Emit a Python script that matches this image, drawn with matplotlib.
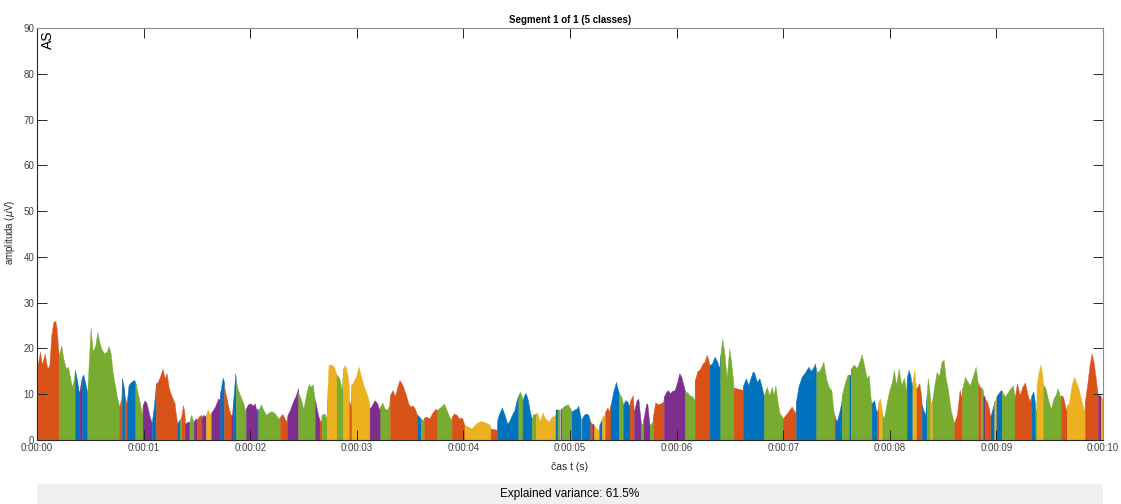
import numpy as np
import matplotlib
matplotlib.use("Agg")
import matplotlib.pyplot as plt
from matplotlib.patches import Rectangle

plt.rcParams["font.family"] = ["Liberation Sans", "DejaVu Sans"]

# ----------------------------- GFP TRACE ----------------------------------- #
# knot times (s) and global field power (uV), one row per second of recording
knot_t = [
    0.000, 0.028, 0.047, 0.072, 0.097, 0.116, 0.134, 0.153, 0.172, 0.184, 0.197,
    0.203, 0.228, 0.247, 0.272, 0.291, 0.309, 0.328, 0.347,
    0.356, 0.372, 0.391, 0.397, 0.416, 0.422, 0.434, 0.450, 0.466,
    0.472, 0.491, 0.503, 0.522, 0.547, 0.566, 0.584, 0.603, 0.628, 0.653, 0.672, 0.691, 0.709, 0.734, 0.753,
    0.772, 0.791, 0.797, 0.816, 0.822, 0.841, 0.859, 0.884, 0.909,
    0.922, 0.941, 0.966, 0.984, 0.991,
    # 1 s
    1.009, 1.028, 1.053, 1.072, 1.078, 1.097, 1.109,
    1.116, 1.134, 1.159, 1.178, 1.197, 1.216, 1.234, 1.253, 1.272, 1.291, 1.303,
    1.316, 1.334, 1.340, 1.350, 1.356, 1.370, 1.382, 1.390, 1.410, 1.430, 1.445, 1.460,
    1.470, 1.485, 1.500, 1.520, 1.540, 1.545, 1.560, 1.575, 1.585, 1.600, 1.625,
    1.635, 1.670, 1.700, 1.715, 1.720, 1.742, 1.754, 1.755, 1.779, 1.798, 1.817,
    1.820, 1.829, 1.840, 1.860, 1.866, 1.886, 1.910, 1.936, 1.954, 1.960, 1.979,
    # 2 s
    2.004, 2.023, 2.042, 2.057, 2.060, 2.070,
    2.076, 2.098, 2.123, 2.148, 2.173, 2.201, 2.232, 2.264,
    2.280, 2.301, 2.323, 2.342, 2.350, 2.373, 2.398, 2.429, 2.448,
    2.450, 2.473, 2.498, 2.523, 2.548, 2.567, 2.586, 2.604,
    2.610, 2.636, 2.650, 2.667, 2.670, 2.698, 2.717,
    2.720, 2.735, 2.767, 2.792, 2.804, 2.810, 2.836, 2.860,
    2.870, 2.889, 2.910, 2.926, 2.930, 2.948, 2.950, 2.992,
    # 3 s
    3.017, 3.036, 3.067, 3.098, 3.114,
    3.120, 3.142, 3.167, 3.192, 3.210, 3.220, 3.239, 3.260, 3.286, 3.304,
    3.311, 3.336, 3.358, 3.380, 3.400, 3.420, 3.436, 3.461, 3.486, 3.505, 3.524, 3.545, 3.561,
    3.567, 3.586, 3.600, 3.624,
    3.630, 3.655, 3.680, 3.705, 3.736, 3.749,
    3.755, 3.780, 3.800, 3.817, 3.842, 3.867, 3.886,
    3.890, 3.911, 3.936, 3.961, 3.986,
    # 4 s
    4.005, 4.010, 4.045, 4.077, 4.117, 4.155, 4.192, 4.224, 4.249,
    4.255, 4.286, 4.311,
    4.320, 4.336, 4.361, 4.386, 4.411, 4.430, 4.455, 4.480, 4.499, 4.511,
    4.515, 4.530, 4.548, 4.555, 4.574, 4.586, 4.605, 4.624, 4.636,
    4.640, 4.661, 4.674, 4.680, 4.692, 4.717, 4.742, 4.767, 4.799, 4.830, 4.867,
    4.870, 4.890, 4.910, 4.920, 4.950, 4.980,
    # 5 s
    5.005, 5.015, 5.038, 5.063, 5.078, 5.094, 5.100,
    5.110, 5.131, 5.150, 5.172, 5.184, 5.190, 5.203, 5.210,
    5.225, 5.250, 5.269, 5.275, 5.290, 5.300, 5.313, 5.325,
    5.330, 5.350, 5.369, 5.380, 5.406, 5.431, 5.450,
    5.460, 5.481, 5.494, 5.500, 5.519, 5.538, 5.556,
    5.560, 5.588, 5.598, 5.600, 5.625, 5.641, 5.663, 5.665, 5.681,
    5.690, 5.713, 5.725, 5.744, 5.750, 5.775,
    5.780, 5.800, 5.825, 5.850, 5.875,
    5.880, 5.900, 5.919, 5.938, 5.956, 5.981,
    # 6 s
    6.006, 6.025, 6.044, 6.069,
    6.080, 6.100, 6.125, 6.150, 6.169,
    6.170, 6.197, 6.219, 6.244, 6.263, 6.281, 6.294, 6.309,
    6.310, 6.331, 6.356, 6.381, 6.400,
    6.410, 6.428, 6.447, 6.469, 6.494, 6.513, 6.531,
    6.535, 6.563, 6.594, 6.619,
    6.625, 6.650, 6.672, 6.713, 6.727, 6.752, 6.777, 6.798, 6.817,
    6.820, 6.845, 6.870, 6.892, 6.908, 6.927, 6.945, 6.964, 6.989,
    6.995,
    # 7 s
    7.033, 7.080, 7.114,
    7.120, 7.142, 7.173, 7.205, 7.236, 7.258, 7.277, 7.298,
    7.310, 7.333, 7.358, 7.377, 7.402, 7.427, 7.452, 7.470,
    7.480, 7.490, 7.502, 7.527, 7.545,
    7.550, 7.577, 7.602, 7.617, 7.620, 7.633,
    7.635, 7.664, 7.689, 7.714, 7.736, 7.758, 7.783, 7.802, 7.820,
    7.830, 7.852, 7.870, 7.877, 7.892, 7.895, 7.908, 7.927,
    7.930, 7.945, 7.970, 7.995,
    # 8 s
    8.020, 8.039, 8.058, 8.083, 8.108, 8.133, 8.152,
    8.160, 8.177, 8.195, 8.208, 8.212, 8.230, 8.248,
    8.250, 8.277, 8.295, 8.300, 8.314, 8.333,
    8.345, 8.357, 8.375, 8.380, 8.393,
    8.400, 8.418, 8.439, 8.461, 8.486, 8.505, 8.524, 8.543, 8.574, 8.599,
    8.605, 8.630, 8.655, 8.674,
    8.680, 8.705, 8.730, 8.752, 8.783, 8.805, 8.824,
    8.830, 8.849, 8.855, 8.874, 8.877, 8.889,
    8.890, 8.911, 8.930, 8.943, 8.945, 8.964, 8.977, 8.980, 8.996,
    # 9 s
    9.000, 9.018, 9.043,
    9.050, 9.080, 9.111, 9.136, 9.155, 9.168,
    9.170, 9.193, 9.218, 9.243, 9.268, 9.293, 9.311, 9.327,
    9.330, 9.346, 9.361, 9.365, 9.374,
    9.378, 9.396, 9.414, 9.430, 9.439,
    9.440, 9.461, 9.486, 9.511, 9.536, 9.555, 9.574, 9.593, 9.602,
    9.605, 9.624, 9.643, 9.655,
    9.660, 9.680, 9.705, 9.730, 9.752, 9.774, 9.799, 9.824,
    9.830, 9.855, 9.874, 9.893, 9.911, 9.930, 9.949,
    9.955, 9.974, 9.980, 10.000,
]

knot_uv = [
    15.6, 19.3, 16.4, 18.9, 15.6, 16.4, 22.9, 25.8, 26.0, 24.4, 20.4,
    18.6, 20.6, 17.8, 15.6, 16.0, 13.8, 11.6, 13.5,
    15.3, 13.5, 10.6, 10.6, 13.1, 13.8, 14.3, 12.7, 10.9,
    10.6, 19.3, 24.5, 19.3, 20.7, 23.6, 21.5, 20.0, 18.9, 19.3, 20.5, 18.9, 14.9, 11.6, 9.1,
    7.3, 9.1, 13.5, 11.3, 9.5, 8.0, 12.0, 12.7, 13.1,
    12.7, 10.6, 8.0, 5.5, 7.6,
    # 1 s
    8.7, 8.0, 5.5, 4.0, 4.0, 7.6, 10.6,
    12.4, 12.7, 14.2, 15.6, 13.5, 14.6, 11.6, 10.2, 9.1, 8.0, 5.5,
    3.6, 4.4, 4.4, 5.0, 5.5, 7.6, 6.0, 3.5, 4.0, 4.0, 5.5, 4.5,
    4.0, 4.7, 4.5, 5.2, 5.5, 5.0, 5.5, 5.2, 5.5, 6.7, 5.5,
    6.0, 7.3, 9.1, 8.7, 10.6, 13.6, 12.7, 11.6, 9.1, 6.9, 5.5,
    5.5, 5.5, 8.4, 14.6, 12.7, 10.9, 9.5, 8.0, 6.2, 6.9, 7.8,
    # 2 s
    8.0, 7.5, 8.0, 6.6, 6.6, 6.9,
    6.2, 7.8, 6.6, 5.5, 6.0, 6.3, 5.8, 4.7,
    5.1, 5.7, 4.7, 4.0, 5.5, 6.6, 8.2, 9.8, 11.3,
    10.4, 9.1, 6.8, 9.8, 12.2, 11.6, 12.2, 9.1,
    8.5, 5.5, 4.4, 3.9, 5.5, 5.8, 4.7,
    9.1, 16.4, 16.5, 15.6, 14.6, 14.3, 13.5, 10.9,
    15.6, 16.4, 14.6, 11.6, 8.4, 6.9, 12.0, 13.8,
    # 3 s
    16.0, 14.2, 11.6, 9.8, 8.4,
    6.9, 7.6, 8.7, 8.0, 6.6, 7.3, 8.2, 6.9, 6.6, 7.8,
    9.8, 10.9, 9.5, 11.6, 13.1, 12.4, 11.6, 9.8, 7.8, 7.3, 7.6, 6.8, 5.8,
    5.5, 5.1, 4.6, 4.4,
    4.9, 5.1, 4.7, 5.8, 6.8, 6.6,
    6.6, 7.1, 7.5, 8.0, 6.6, 5.1, 4.4,
    5.1, 5.8, 5.5, 4.7, 4.9,
    # 4 s
    3.6, 3.3, 2.9, 2.5, 3.6, 4.1, 4.0, 3.6, 3.3,
    2.5, 2.4, 2.2,
    4.7, 5.8, 7.1, 5.5, 3.6, 4.1, 5.5, 6.6, 8.7, 9.5,
    9.8, 10.6, 9.5, 8.7, 10.0, 10.2, 8.7, 6.2, 5.1,
    4.7, 5.8, 5.6, 5.8, 6.0, 4.1, 6.0, 4.7, 4.0, 5.1, 5.5,
    6.6, 6.6, 6.6, 6.9, 7.5, 7.8,
    # 5 s
    6.8, 6.2, 6.6, 6.9, 7.5, 5.5, 4.6,
    4.7, 5.5, 5.8, 5.5, 4.4, 4.0, 3.6, 3.6,
    3.3, 2.5, 2.2, 3.3, 4.1, 4.7, 5.5, 5.1,
    6.2, 7.1, 6.2, 7.6, 10.6, 12.7, 10.9,
    10.2, 9.5, 8.2, 7.8, 8.7, 8.4, 7.3,
    8.4, 9.8, 6.6, 6.2, 8.7, 9.0, 4.0, 3.3, 3.6,
    4.7, 7.8, 8.0, 3.6, 3.3, 4.1,
    5.5, 8.2, 7.8, 8.0, 8.4,
    9.5, 10.4, 10.9, 10.2, 10.7, 10.9,
    # 6 s
    12.7, 14.6, 13.8, 11.6,
    10.6, 10.4, 9.7, 9.5, 8.5,
    13.1, 15.1, 15.5, 16.7, 17.1, 18.6, 17.8, 16.4,
    16.4, 16.7, 18.2, 17.1, 15.6,
    18.6, 22.1, 19.3, 13.5, 20.0, 16.7, 12.7,
    11.4, 11.3, 11.1, 10.9,
    12.0, 13.5, 12.0, 14.9, 14.8, 12.7, 13.5, 11.6, 9.8,
    9.8, 11.6, 9.8, 11.6, 9.8, 11.9, 8.7, 6.0, 5.1,
    4.7,
    # 7 s
    5.8, 7.3, 5.8,
    8.4, 11.6, 13.8, 14.8, 16.0, 15.1, 15.6, 16.7,
    15.1, 14.9, 16.0, 17.1, 13.5, 11.6, 10.9, 6.6,
    5.5, 4.7, 4.0, 6.2, 8.2,
    9.8, 12.4, 14.2, 14.3, 14.3, 14.2,
    15.6, 16.5, 15.6, 17.1, 18.7, 16.4, 13.5, 14.2, 9.1,
    8.0, 8.7, 6.6, 6.2, 6.9, 8.5, 9.1, 6.2,
    5.5, 4.7, 8.0, 10.9,
    # 8 s
    12.7, 15.3, 12.0, 15.6, 12.0, 13.6, 10.6,
    13.8, 15.3, 13.8, 11.3, 12.7, 15.3, 10.6,
    11.3, 12.4, 9.5, 7.6, 6.6, 5.5,
    9.8, 13.5, 10.0, 8.2, 8.5,
    9.1, 12.0, 14.8, 14.0, 17.1, 17.5, 13.5, 11.3, 6.2, 4.0,
    3.9, 5.5, 10.9, 9.1,
    11.3, 13.8, 12.7, 12.0, 14.2, 16.0, 12.7,
    12.4, 11.3, 11.6, 10.9, 9.8, 9.5,
    9.0, 8.4, 6.8, 4.7, 5.3, 6.9, 8.0, 8.5, 9.0,
    # 9 s
    9.5, 10.2, 10.9,
    10.7, 9.5, 10.6, 11.4, 11.9, 9.8,
    9.1, 12.4, 9.8, 11.6, 12.6, 9.8, 8.5, 9.5,
    9.8, 10.6, 8.2, 6.6, 6.2,
    12.0, 14.9, 16.5, 14.2, 12.0,
    12.0, 11.3, 8.7, 6.8, 9.1, 9.8, 11.3, 9.8, 9.1,
    9.8, 9.5, 7.6, 6.2,
    7.6, 8.0, 12.0, 13.8, 12.4, 10.9, 8.4, 6.2,
    8.4, 12.7, 16.4, 18.9, 17.1, 13.8, 10.2,
    9.8, 9.8, 9.5, 9.0,
]

# --------------------------- MICROSTATE LABELS ----------------------------- #
# onset of each labelled segment (s) and its class (1..5)
seg_start = [
    0.000, 0.203, 0.356, 0.397, 0.422, 0.472, 0.772, 0.797, 0.822, 0.841, 0.922, 0.991,
    1.078, 1.116, 1.316, 1.340, 1.356, 1.390, 1.430, 1.470, 1.500, 1.545, 1.585, 1.635,
    1.720, 1.755, 1.820, 1.840, 1.866, 1.960,
    2.060, 2.076, 2.280, 2.350, 2.450, 2.610, 2.650, 2.670, 2.720, 2.810, 2.870, 2.930, 2.950,
    3.120, 3.220, 3.311, 3.567, 3.600, 3.630, 3.755, 3.890,
    4.010, 4.255, 4.320, 4.515, 4.555, 4.640, 4.680, 4.870, 4.890, 4.910, 4.920,
    5.015, 5.100, 5.110, 5.190, 5.210, 5.225, 5.275, 5.300, 5.330, 5.380, 5.460, 5.500,
    5.560, 5.600, 5.665, 5.690, 5.750, 5.780, 5.880,
    6.080, 6.170, 6.310, 6.410, 6.535, 6.625, 6.820, 6.995,
    7.120, 7.310, 7.480, 7.490, 7.550, 7.620, 7.635, 7.830, 7.877, 7.895, 7.930,
    8.160, 8.212, 8.250, 8.300, 8.345, 8.380, 8.400, 8.605, 8.680, 8.830, 8.855, 8.877,
    8.890, 8.945, 8.980,
    9.000, 9.050, 9.170, 9.330, 9.365, 9.378, 9.440, 9.605, 9.660, 9.830, 9.955, 9.980,
]
seg_class = [
    2, 5, 1, 4, 1, 5, 2, 1, 2, 1, 5, 4,
    1, 2, 1, 5, 2, 4, 5, 4, 2, 4, 3, 4,
    1, 2, 4, 1, 5, 4,
    1, 5, 2, 4, 5, 4, 2, 5, 3, 5, 3, 2, 3,
    4, 5, 2, 1, 5, 2, 5, 2,
    3, 2, 1, 5, 1, 5, 3, 1, 5, 4, 5,
    1, 5, 1, 2, 4, 3, 1, 3, 2, 1, 5, 1,
    2, 4, 5, 4, 5, 2, 4,
    5, 2, 1, 5, 2, 1, 5, 2,
    1, 5, 2, 1, 5, 1, 5, 1, 2, 3, 5,
    1, 3, 2, 1, 5, 3, 5, 2, 5, 2, 5, 4,
    2, 1, 3,
    1, 5, 2, 1, 5, 3, 5, 2, 3, 2, 4, 3,
]

t_end = 10.0
xtick_sec = list(range(0, 11))
explained_var = 61.5

# default MATLAB line colours, one per class
class_colors = {1: "#0072BD", 2: "#D95319", 3: "#EDB120", 4: "#7E2F8E", 5: "#77AC30"}

assert len(knot_t) == len(knot_uv)
assert len(seg_start) == len(seg_class)

t = np.array(knot_t)
uv = np.array(knot_uv)
edges = seg_start + [t_end]

# ------------------------------ PLOTTING ---------------------------------- #
W, H = 1121, 504
fig = plt.figure(figsize=(W / 100, H / 100), dpi=100)
ax = fig.add_axes([37 / W, 1 - 440 / H, 1066 / W, 412 / H])

for k, cls in enumerate(seg_class):
    m = (t >= edges[k] - 1e-9) & (t <= edges[k + 1] + 1e-9)
    c = class_colors[cls]
    ax.fill_between(t[m], 0, uv[m], facecolor=c, edgecolor=c, linewidth=0.3, zorder=1)

ax.set_xlim(0, t_end)
ax.set_ylim(0, 90)
ax.set_xticks(xtick_sec)
ax.set_xticklabels([f"0:00:{s:02d}" for s in xtick_sec])
ax.set_yticks(range(0, 91, 10))

ax.tick_params(direction="in", length=7, width=0.7, top=True, right=True,
               labelsize=7, colors="#262626", labelcolor="#404040", pad=2)
for side in ("left", "bottom"):
    ax.spines[side].set_color("#262626")
    ax.spines[side].set_linewidth(0.8)
for side in ("top", "right"):
    ax.spines[side].set_color("#8c8c8c")
    ax.spines[side].set_linewidth(0.8)

ax.text(0.04, 89.5, "AS", rotation=90, ha="left", va="top", fontsize=10, color="#000000")

fig.text((37 + 1103) / 2 / W, 1 - 20 / H, "Segment 1 of 1 (5 classes)",
         ha="center", va="center", fontsize=7, fontweight="bold", color="#000000")
fig.text((37 + 1103) / 2 / W, 1 - 467 / H, "čas t (s)",
         ha="center", va="center", fontsize=7.5, color="#262626")
fig.text(10 / W, 1 - 232 / H, r"amplituda ($\mu$V)", rotation=90,
         ha="center", va="center", fontsize=7, color="#262626")

# status bar under the axes
fig.patches.append(Rectangle((37 / W, 0), 1066 / W, 20 / H, transform=fig.transFigure,
                             facecolor="#f0f0f0", edgecolor="none", zorder=0))
fig.text((37 + 1103) / 2 / W, 1 - 494 / H, f"Explained variance: {explained_var}%",
         ha="center", va="center", fontsize=8.5, color="#000000")

fig.savefig("out.png", dpi=100)
